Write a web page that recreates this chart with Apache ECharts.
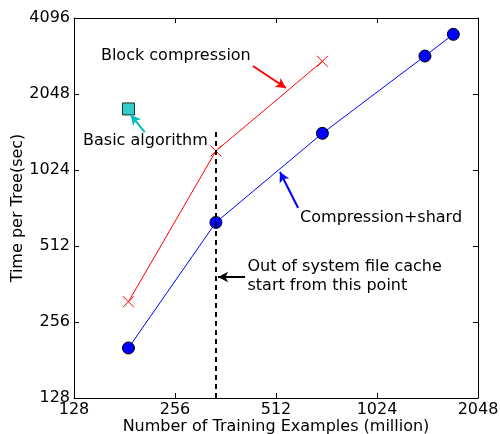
<!DOCTYPE html>
<html><head><meta charset="utf-8">
<script src="https://cdn.jsdelivr.net/npm/echarts@6/dist/echarts.min.js"></script>
<style>html,body{margin:0;padding:0;background:#fff}#c{width:500px;height:434px}</style>
</head><body><div id="c"></div>
<script>
const xTicks = [128, 256, 512, 1024, 2048];
const yTicks = [128, 256, 512, 1024, 2048, 4096];
const shardX = [186, 339, 704, 1423, 1729];
const shardY = [202, 635, 1431, 2896, 3529];
const blockX = [186, 339, 704];
const blockY = [308, 1218, 2760];
const basicX = [186];
const basicY = [1787];
const cacheX = 339;
const cacheTop = 1448;

const F = 'DejaVu Sans';
const FS = 16;
const chart = echarts.init(document.getElementById('c'), null, {renderer: 'canvas'});
const zip = (a, b) => a.map((v, i) => [v, b[i]]);
const axisCommon = {
  type: 'log', logBase: 2,
  axisLine: {show: true, lineStyle: {color: '#000', width: 1}},
  axisTick: {show: true, inside: true, length: 5, lineStyle: {color: '#000'}},
  splitLine: {show: false}, minorTick: {show: false}
};
const xLab = {fontFamily: F, fontSize: FS, color: '#000', margin: 4, formatter: v => String(Math.round(v))};
const yLab = {fontFamily: F, fontSize: FS, color: '#000', margin: 4, formatter: v => String(Math.round(v))};

const arrow = (x1, y1, x2, y2, color) => [
  {coord: [x1, y1], symbol: 'none', lineStyle: {color: color, width: 2, type: 'solid'}, itemStyle: {color: color}},
  {coord: [x2, y2], symbol: 'arrow', symbolSize: [8, 10], itemStyle: {color: color}}
];

chart.setOption({
  animation: false,
  grid: {left: 74, right: 22, top: 18, bottom: 36, containLabel: false, outerBoundsMode: 'none'},
  xAxis: [
    Object.assign({}, axisCommon, {min: xTicks[0], max: xTicks[xTicks.length - 1], position: 'bottom',
      axisLabel: xLab, name: 'Number of Training Examples (million)', nameLocation: 'middle', nameGap: 21,
      nameMoveOverlap: false,
      nameTextStyle: {fontFamily: F, fontSize: FS, color: '#000'}}),
    Object.assign({}, axisCommon, {min: xTicks[0], max: xTicks[xTicks.length - 1], position: 'top',
      axisLabel: {show: false}})
  ],
  yAxis: [
    Object.assign({}, axisCommon, {min: yTicks[0], max: yTicks[yTicks.length - 1], position: 'left',
      axisLabel: yLab, name: 'Time per Tree(sec)', nameLocation: 'middle', nameGap: 48,
      nameMoveOverlap: false,
      nameTextStyle: {fontFamily: F, fontSize: FS, color: '#000'}}),
    Object.assign({}, axisCommon, {min: yTicks[0], max: yTicks[yTicks.length - 1], position: 'right',
      axisLabel: {show: false}})
  ],
  series: [
    {
      name: 'Compression+shard', type: 'line', data: zip(shardX, shardY),
      lineStyle: {color: '#0000ff', width: 1}, symbol: 'circle', symbolSize: 12,
      itemStyle: {color: '#0000ff', borderColor: '#000', borderWidth: 1}, z: 3
    },
    {
      name: 'Block compression', type: 'line', data: zip(blockX, blockY),
      lineStyle: {color: '#ff0000', width: 1},
      symbol: 'path://M0,0L10,10M10,0L0,10', symbolSize: 11,
      itemStyle: {color: 'transparent', borderColor: '#ff0000', borderWidth: 1}, z: 3
    },
    {
      name: 'Basic algorithm', type: 'scatter', data: zip(basicX, basicY),
      symbol: 'rect', symbolSize: 12,
      itemStyle: {color: '#00bfbf', borderColor: '#000', borderWidth: 1}, z: 4
    },
    {
      name: 'annotations', type: 'line', data: [], silent: true,
      markLine: {
        silent: true, symbol: ['none', 'arrow'], symbolSize: 10,
        label: {show: false},
        data: [
          arrow(437, 2643, 548, 2163, '#ff0000'),
          arrow(208, 1448, 189, 1691, '#00bfbf'),
          arrow(596, 724, 526, 1005, '#0000ff'),
          arrow(414, 386, 344, 386, '#000000'),
          [
            {coord: [cacheX, 128], symbol: 'none', lineStyle: {color: '#000', width: 2, type: [5, 4]}},
            {coord: [cacheX, cacheTop], symbol: 'none'}
          ]
        ]
      },
      markPoint: {
        silent: true, symbol: 'circle', symbolSize: 0,
        itemStyle: {color: '#000'},
        label: {show: true, position: 'right', distance: 0, fontFamily: F, fontSize: FS, color: '#000',
          textBorderWidth: 0, opacity: 1, align: 'left', verticalAlign: 'middle', lineHeight: 19,
          formatter: p => p.data.t},
        data: [
          {coord: [154, 2896], t: 'Block compression'},
          {coord: [136.2, 1334], t: 'Basic algorithm'},
          {coord: [604, 660], t: 'Compression+shard'},
          {coord: [421, 388], t: 'Out of system file cache\nstart from this point'}
        ]
      }
    }
  ]
});
</script></body></html>
